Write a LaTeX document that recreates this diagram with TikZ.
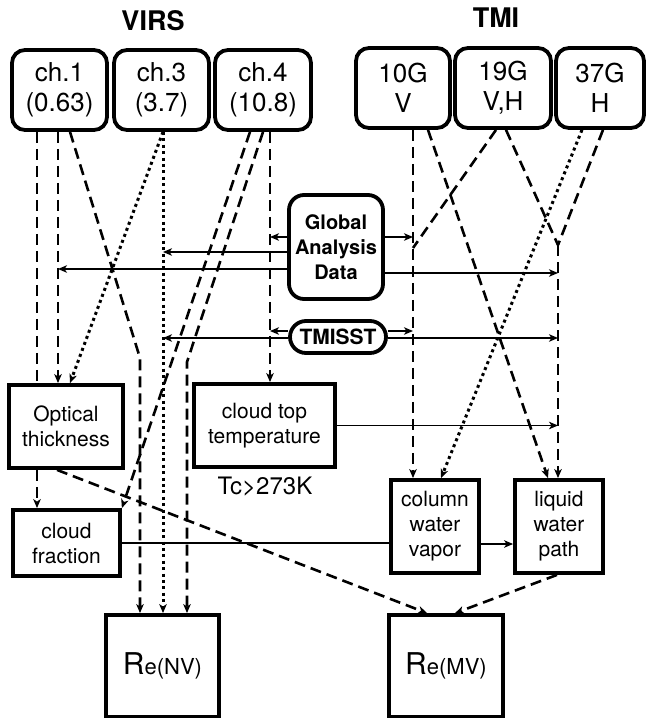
\documentclass[tikz,border=0pt]{standalone}
\usepackage{fontspec}
\setmainfont{TeX Gyre Heros}
\usetikzlibrary{arrows.meta}
\begin{document}
\begin{tikzpicture}[x=1pt,y=-1pt,
  rbox/.style={draw,line width=3.8pt,rounded corners=13pt,inner sep=0pt,align=center,fill=white},
  sbox/.style={draw,line width=3.8pt,inner sep=0pt,align=center,fill=white},
  topfont/.style={font=\fontsize{26}{30}\selectfont},
  midfont/.style={font=\fontsize{21}{25}\selectfont},
  title/.style={font=\fontsize{27}{30}\selectfont\bfseries},
  dsh/.style={line width=2.6pt,dash pattern=on 11pt off 6pt},
  dot/.style={line width=3pt,dash pattern=on 3pt off 3.4pt},
  sol/.style={line width=1.3pt},
  tip/.style={-{Stealth[length=9pt,width=7.5pt,inset=2.5pt]}}
]
\useasboundingbox (0,0) rectangle (647,718);

% titles
\node[title] (virs) at (153,21) {VIRS};
\node[title] (tmi) at (496,18) {TMI};

% top boxes
\node[rbox,topfont,minimum width=95pt,minimum height=80pt] (ch1) at (59.5,90) {ch.1\\(0.63)};
\node[rbox,topfont,minimum width=95pt,minimum height=80pt] (ch3) at (161.5,90) {ch.3\\(3.7)};
\node[rbox,topfont,minimum width=96pt,minimum height=80pt] (ch4) at (263,90) {ch.4\\(10.8)};
\node[rbox,topfont,minimum width=94pt,minimum height=80pt] (g10) at (403,88) {10G\\V};
\node[rbox,topfont,minimum width=96pt,minimum height=80pt] (g19) at (503,88) {19G\\V,H};
\node[rbox,topfont,minimum width=88pt,minimum height=80pt] (g37) at (600,88) {37G\\H};

% middle boxes
\node[rbox,font=\fontsize{20}{25}\selectfont\bfseries,minimum width=94pt,minimum height=104pt,rounded corners=15pt] (gad) at (336,247) {Global\\Analysis\\Data};
\node[rbox,font=\fontsize{21}{25}\selectfont\bfseries,minimum width=96pt,minimum height=32pt,rounded corners=16pt] (tsst) at (338,337) {TMISST};

\node[sbox,midfont,minimum width=114pt,minimum height=83pt] (opt) at (66,426.5) {Optical\\thickness};
\node[sbox,midfont,minimum width=141pt,minimum height=83pt] (ctt) at (264.5,425.5) {cloud top\\temperature};
\node[font=\fontsize{24}{28}\selectfont] (tc) at (265,487) {Tc>273K};
\node[sbox,midfont,minimum width=107pt,minimum height=66pt] (cf) at (66.5,543) {cloud\\fraction};
\node[sbox,midfont,minimum width=88pt,minimum height=93pt] (cwv) at (435,526.5) {column\\water\\vapor};
\node[sbox,midfont,minimum width=88pt,minimum height=93pt] (lwp) at (559,526.5) {liquid\\water\\path};

\node[sbox,minimum width=113pt,minimum height=102pt] (renv) at (162.5,666) {\fontsize{30}{30}\selectfont R\fontsize{22}{22}\selectfont e(NV)};
\node[sbox,minimum width=114pt,minimum height=102pt] (remv) at (446,666) {\fontsize{30}{30}\selectfont R\fontsize{22}{22}\selectfont e(MV)};

% ch.1 connectors
\draw[dsh] (37,0 |- ch1.south) -- (37,0 |- opt.north);
\draw[dsh,tip] (37,0 |- opt.south) -- (37,0 |- cf.north);
\draw[dsh,tip] (58,0 |- ch1.south) -- (58,0 |- opt.north);
\draw[dsh,tip] (70,0 |- ch1.south) -- (140,358) -- (140,0 |- renv.north);

% ch.3 connectors
\draw[dot,tip] (163,0 |- ch3.south) -- (70,0 |- opt.north);
\draw[dot,tip] (163,0 |- ch3.south) -- (163,0 |- renv.north);

% ch.4 connectors
\draw[dsh,tip] (270,0 |- ch4.south) -- (270,0 |- ctt.north);
\draw[dsh,tip] (250,0 |- ch4.south) -- (cf.north east);
\draw[dsh,tip] (263,0 |- ch4.south) -- (187,362) -- (187,0 |- renv.north);

% TMI connectors
\draw[dsh,tip] (413,0 |- g10.south) -- (413,0 |- cwv.north);
\draw[dsh,tip] (428,0 |- g10.south) -- (548,0 |- lwp.north);
\draw[dsh] (496,0 |- g19.south) -- (413,248);
\coordinate (mrg) at (558,245);
\draw[dsh] (506,0 |- g19.south) -- (mrg);
\draw[dsh] (603,0 |- g37.south) -- (mrg);
\draw[dsh,tip] (mrg) -- (mrg |- lwp.north);
\draw[dot,tip] (582,0 |- g37.south) -- (441,0 |- cwv.north);

% lower connectors
\draw[dsh,tip] (57,0 |- opt.south) -- (427,0 |- remv.north);
\draw[dsh,tip] (557,0 |- lwp.south) -- (455,0 |- remv.north);

% Global Analysis Data arrows
\draw[sol,tip] (gad.west |- 0,237) -- (270,237);
\draw[sol,tip] (gad.west |- 0,252) -- (163,252);
\draw[sol,tip] (gad.west |- 0,269) -- (58,269);
\draw[sol,tip] (gad.east |- 0,237) -- (413,237);
\draw[sol,tip] (gad.east |- 0,273) -- (558,273);

% TMISST arrows
\draw[sol,tip] (tsst.west |- 0,331) -- (270,331);
\draw[sol,tip] (tsst.west |- 0,338) -- (163,338);
\draw[sol,tip] (tsst.east |- 0,331) -- (413,331);
\draw[sol,tip] (tsst.east |- 0,338) -- (558,338);

% other solid connectors
\draw[sol,tip] (ctt.east) -- (558,0 |- ctt.east);
\draw[sol] (cf.east) -- (cwv.west |- cf.east);
\draw[sol,tip] (cwv.east |- 0,544) -- (lwp.west |- 0,544);
\end{tikzpicture}
\end{document}
